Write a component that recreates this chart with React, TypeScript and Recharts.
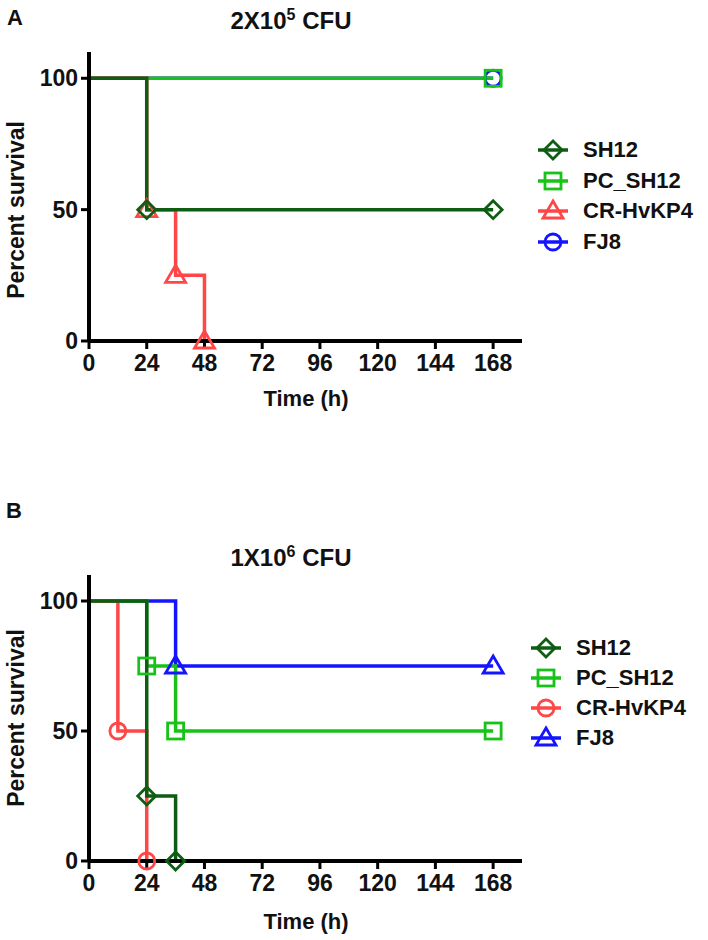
import React from "react";
import { LineChart, Line, XAxis, YAxis } from "recharts";

// shared axes
const timeTicks = [0, 24, 48, 72, 96, 120, 144, 168];
const survivalTicks = [0, 50, 100];
const seriesNames = ["SH12", "PC_SH12", "CR-HvKP4", "FJ8"];

// panel A: 2X10^5 CFU
const aSH12Time = [0, 24, 168];
const aSH12Pct = [100, 50, 50];
const aPCTime = [0, 168];
const aPCPct = [100, 100];
const aCRTime = [0, 24, 36, 48];
const aCRPct = [100, 50, 25, 0];
const aFJ8Time = [0, 168];
const aFJ8Pct = [100, 100];

// panel B: 1X10^6 CFU
const bSH12Time = [0, 24, 36];
const bSH12Pct = [100, 25, 0];
const bPCTime = [0, 24, 36, 168];
const bPCPct = [100, 75, 50, 50];
const bCRTime = [0, 12, 24];
const bCRPct = [100, 50, 0];
const bFJ8Time = [0, 36, 168];
const bFJ8Pct = [100, 75, 75];

const COLORS = {
  SH12: "#0d5e12",
  PC_SH12: "#19c219",
  "CR-HvKP4": "#ff4747",
  FJ8: "#1414ff",
};

const FONT = "'Liberation Sans', Arial, sans-serif";

type Shape = "diamond" | "square" | "triangle" | "circle";

interface Series {
  name: string;
  shape: Shape;
  data: { t: number; v: number }[];
}

const toPoints = (t: number[], v: number[]) => t.map((x, i) => ({ t: x, v: v[i] }));

// legend order = seriesNames, draw order puts SH12 on top
const panelA: Series[] = [
  { name: seriesNames[0], shape: "diamond", data: toPoints(aSH12Time, aSH12Pct) },
  { name: seriesNames[1], shape: "square", data: toPoints(aPCTime, aPCPct) },
  { name: seriesNames[2], shape: "triangle", data: toPoints(aCRTime, aCRPct) },
  { name: seriesNames[3], shape: "circle", data: toPoints(aFJ8Time, aFJ8Pct) },
];

const panelB: Series[] = [
  { name: seriesNames[0], shape: "diamond", data: toPoints(bSH12Time, bSH12Pct) },
  { name: seriesNames[1], shape: "square", data: toPoints(bPCTime, bPCPct) },
  { name: seriesNames[2], shape: "circle", data: toPoints(bCRTime, bCRPct) },
  { name: seriesNames[3], shape: "triangle", data: toPoints(bFJ8Time, bFJ8Pct) },
];

const Marker = ({ shape, cx, cy, color }: { shape: Shape; cx: number; cy: number; color: string }) => {
  const common = { fill: "none", stroke: color, strokeWidth: 2.8 };
  if (shape === "diamond")
    return <polygon points={`${cx},${cy - 9} ${cx + 9},${cy} ${cx},${cy + 9} ${cx - 9},${cy}`} {...common} />;
  if (shape === "square") return <rect x={cx - 8} y={cy - 8} width={16} height={16} {...common} />;
  if (shape === "triangle")
    return <polygon points={`${cx},${cy - 10} ${cx + 10},${cy + 7} ${cx - 10},${cy + 7}`} {...common} />;
  return <circle cx={cx} cy={cy} r={8} {...common} />;
};

const makeDot = (shape: Shape, color: string) => (props: any) => {
  const { cx, cy, payload, index } = props;
  if (payload.t === 0 || cx == null) return <g key={`d-${index}`} />;
  return (
    <g key={`d-${index}`}>
      <Marker shape={shape} cx={cx} cy={cy} color={color} />
    </g>
  );
};

const tickStyle = { fontFamily: FONT, fontSize: 23, fontWeight: 700, fill: "#111" };

const SurvivalPanel = ({ series, top, height, plotTop, plotBottom }: {
  series: Series[];
  top: number;
  height: number;
  plotTop: number;
  plotBottom: number;
}) => {
  const drawOrder = [3, 1, 2, 0].map((i) => series[i]);
  return (
    <div style={{ position: "absolute", left: 0, top, width: 708, height }}>
      <LineChart
        width={708}
        height={height}
        margin={{ top: plotTop, left: 29, right: 186, bottom: height - plotBottom - 40 }}
      >
        <XAxis
          dataKey="t"
          type="number"
          domain={[0, 180]}
          ticks={timeTicks}
          allowDataOverflow
          height={40}
          tick={tickStyle}
          tickSize={8}
          tickMargin={6}
          axisLine={{ stroke: "#000", strokeWidth: 4 }}
          tickLine={{ stroke: "#000", strokeWidth: 3 }}
        />
        <YAxis
          type="number"
          domain={[0, 110]}
          ticks={survivalTicks}
          width={60}
          tick={tickStyle}
          tickSize={8}
          tickMargin={3}
          axisLine={{ stroke: "#000", strokeWidth: 4 }}
          tickLine={{ stroke: "#000", strokeWidth: 3 }}
        />
        {drawOrder.map((s) => (
          <Line
            key={s.name}
            data={s.data}
            dataKey="v"
            type="stepAfter"
            stroke={COLORS[s.name as keyof typeof COLORS]}
            strokeWidth={3.5}
            dot={makeDot(s.shape, COLORS[s.name as keyof typeof COLORS])}
            activeDot={false}
            isAnimationActive={false}
          />
        ))}
      </LineChart>
    </div>
  );
};

const LegendBlock = ({ series, left, top, gap }: { series: Series[]; left: number; top: number; gap: number }) => (
  <div style={{ position: "absolute", left, top }}>
    {series.map((s, i) => {
      const color = COLORS[s.name as keyof typeof COLORS];
      return (
        <div key={s.name} style={{ position: "absolute", top: i * gap, left: 0, height: 26, display: "flex", alignItems: "center", whiteSpace: "nowrap" }}>
          <svg width={32} height={26}>
            <line x1={1} y1={13} x2={31} y2={13} stroke={color} strokeWidth={3.5} />
            <Marker shape={s.shape} cx={16} cy={13} color={color} />
          </svg>
          <span style={{ marginLeft: 14, fontFamily: FONT, fontWeight: 700, fontSize: 22, color: "#111" }}>{s.name}</span>
        </div>
      );
    })}
  </div>
);

const textBase: React.CSSProperties = {
  position: "absolute",
  fontFamily: FONT,
  fontWeight: 700,
  color: "#111",
  whiteSpace: "nowrap",
  lineHeight: 1,
};

const App = () => (
  <div style={{ position: "absolute", left: 0, top: 0, width: 708, height: 940, background: "#fff", overflow: "hidden" }}>
    {/* panel A */}
    <div style={{ ...textBase, left: 7, top: 7, fontSize: 22 }}>A</div>
    <div style={{ ...textBase, left: 291, top: 7, fontSize: 24, transform: "translateX(-50%)" }}>
      2X10<sup style={{ fontSize: 16, verticalAlign: "9px" }}>5</sup> CFU
    </div>
    <div style={{ ...textBase, left: 16, top: 210, fontSize: 23, transform: "translate(-50%, -50%) rotate(-90deg)" }}>
      Percent survival
    </div>
    <div style={{ ...textBase, left: 306, top: 399, fontSize: 22, transform: "translate(-50%, -50%)" }}>Time (h)</div>
    <SurvivalPanel series={panelA} top={0} height={400} plotTop={52} plotBottom={341} />
    <LegendBlock series={panelA} left={537} top={137} gap={30.5} />

    {/* panel B */}
    <div style={{ ...textBase, left: 6, top: 500, fontSize: 22 }}>B</div>
    <div style={{ ...textBase, left: 291, top: 544, fontSize: 24, transform: "translateX(-50%)" }}>
      1X10<sup style={{ fontSize: 16, verticalAlign: "9px" }}>6</sup> CFU
    </div>
    <div style={{ ...textBase, left: 16, top: 718, fontSize: 23, transform: "translate(-50%, -50%) rotate(-90deg)" }}>
      Percent survival
    </div>
    <div style={{ ...textBase, left: 306, top: 922, fontSize: 22, transform: "translate(-50%, -50%)" }}>Time (h)</div>
    <SurvivalPanel series={panelB} top={470} height={440} plotTop={105} plotBottom={391} />
    <LegendBlock series={panelB} left={530} top={635} gap={30} />
  </div>
);

export default App;
